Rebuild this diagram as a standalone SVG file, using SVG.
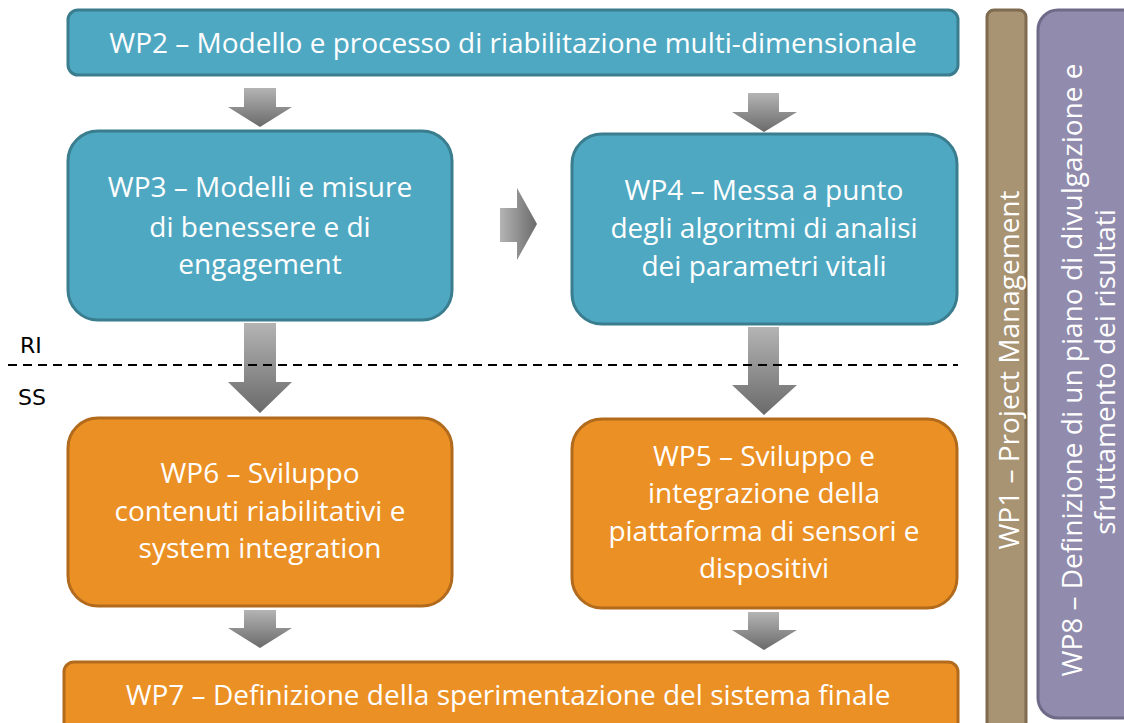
<svg xmlns="http://www.w3.org/2000/svg" width="1124" height="723" viewBox="0 0 1124 723">
<defs>
<linearGradient id="gv" x1="0" y1="0" x2="0" y2="1"><stop offset="0" stop-color="#B4B4B4"/><stop offset="1" stop-color="#6A6A6A"/></linearGradient>
<linearGradient id="gh" x1="0" y1="0" x2="1" y2="0"><stop offset="0" stop-color="#B4B4B4"/><stop offset="1" stop-color="#6A6A6A"/></linearGradient>
<style>
.blue{fill:#4FA8C2;stroke:#3A7D8E;stroke-width:3}
.orange{fill:#EB9024;stroke:#B26A1C;stroke-width:3}
.t{font-family:"Open Sans","Liberation Sans",sans-serif;fill:#FFFFFF;font-size:28px;text-anchor:middle}
.lbl{font-family:"DejaVu Sans","Liberation Sans",sans-serif;fill:#000;font-size:22px}
.av{fill:url(#gv)}
.ah{fill:url(#gh)}
</style>
</defs>
<rect width="1124" height="723" fill="#FFFFFF"/>
<g id="connectors">
<polygon class="av" points="244,88 276,88 276,107 292,107 260,127 228,107 244,107"/>
<polygon class="av" points="748,93 779,93 779,112 797,112 764,132 732,112 748,112"/>
<polygon class="ah" points="500,208 517,208 517,188 537,224 517,260 517,242 500,242"/>
<polygon class="av" points="244,323 276,323 276,382 292,382 260,413 228,382 244,382"/>
<polygon class="av" points="748,327 779,327 779,385 797,385 764,415 732,385 748,385"/>
<polygon class="av" points="244,610 276,610 276,628 292,628 260,648 228,628 244,628"/>
<polygon class="av" points="748,612 779,612 779,630 797,630 764,650 732,630 748,630"/>
<line x1="8" y1="365" x2="958" y2="365" stroke="#000" stroke-width="2" stroke-dasharray="9,6"/>
</g>
<g id="lbl-ri"><text class="lbl" x="20" y="353">RI</text></g>
<g id="lbl-ss"><text class="lbl" x="18" y="405">SS</text></g>
<g id="wp2">
<rect class="blue" x="68" y="10" width="890" height="65" rx="10"/>
<text class="t" x="513" y="53">WP2 – Modello e processo di riabilitazione multi-dimensionale</text>
</g>
<g id="wp3">
<rect class="blue" x="68" y="131" width="384" height="189" rx="30"/>
<text class="t" x="260" y="197">WP3 – Modelli e misure</text>
<text class="t" x="260" y="237">di benessere e di</text>
<text class="t" x="260" y="274">engagement</text>
</g>
<g id="wp4">
<rect class="blue" x="572" y="134" width="385" height="190" rx="30"/>
<text class="t" x="764" y="200">WP4 – Messa a punto</text>
<text class="t" x="764" y="238">degli algoritmi di analisi</text>
<text class="t" x="764" y="276">dei parametri vitali</text>
</g>
<g id="wp6">
<rect class="orange" x="68" y="418" width="384" height="188" rx="30"/>
<text class="t" x="260" y="483">WP6 – Sviluppo</text>
<text class="t" x="260" y="521">contenuti riabilitativi e</text>
<text class="t" x="260" y="558">system integration</text>
</g>
<g id="wp5">
<rect class="orange" x="572" y="419" width="385" height="189" rx="30"/>
<text class="t" x="764" y="466">WP5 – Sviluppo e</text>
<text class="t" x="764" y="503">integrazione della</text>
<text class="t" x="764" y="541">piattaforma di sensori e</text>
<text class="t" x="764" y="578">dispositivi</text>
</g>
<g id="wp7">
<rect class="orange" x="64" y="662" width="894" height="80" rx="10"/>
<text class="t" x="508" y="705">WP7 – Definizione della sperimentazione del sistema finale</text>
</g>
<g id="wp1">
<rect x="987" y="10" width="39" height="730" rx="7" fill="#A89373" stroke="#7E6B50" stroke-width="3"/>
<text class="t" transform="translate(1019,370) rotate(-90)">WP1 – Project Management</text>
</g>
<g id="wp8">
<rect x="1038" y="10" width="110" height="708" rx="20" fill="#918CAD" stroke="#6E6A88" stroke-width="3"/>
<text class="t" transform="translate(1082,370) rotate(-90)">WP8 – Definizione di un piano di divulgazione e</text>
<text class="t" transform="translate(1115,372) rotate(-90)">sfruttamento dei risultati</text>
</g>
</svg>
